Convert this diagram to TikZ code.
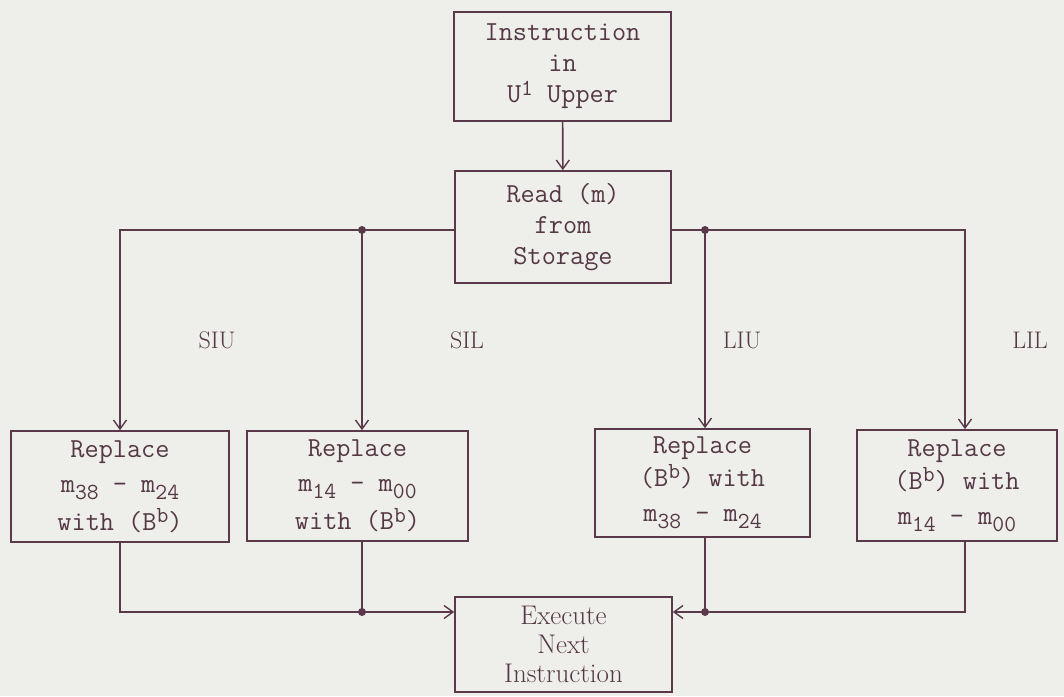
\documentclass[tikz,border=0pt]{standalone}
\usetikzlibrary{arrows.meta}
\definecolor{ink}{HTML}{5A3A4A}
\definecolor{txt}{HTML}{553845}
\definecolor{paper}{HTML}{EEEEEA}
\newcommand{\lo}[1]{\raisebox{-0.26em}{\fontsize{23pt}{23pt}\selectfont #1}}
\newcommand{\hi}[1]{\raisebox{0.28em}{\fontsize{23pt}{23pt}\selectfont #1}}
\tikzset{
  box/.style={draw=ink, line width=1.6pt, text=txt, align=center, inner sep=0pt,
    font=\fontsize{27.5pt}{31pt}\selectfont\ttfamily},
  conn/.style={draw=ink, line width=1.6pt},
  arr/.style={conn, -{Straight Barb[length=9pt,width=13pt,line width=1.4pt]}},
  lab/.style={text=txt, font=\fontsize{24pt}{26pt}\selectfont},
  dot/.style={circle, fill=ink, inner sep=0pt, minimum size=8pt}
}
\begin{document}
\begin{tikzpicture}[x=1pt,y=-1pt]
\fill[paper] (0,0) rectangle (1064,696);
\useasboundingbox (0,0) rectangle (1064,696);

\node[box, minimum width=217pt, minimum height=109pt] (ins) at (562.5,66.5)
  {Instruction\\in\\U\hi{1} Upper};
\node[box, minimum width=216pt, minimum height=112pt] (read) at (563,227)
  {Read (m)\\from\\Storage};

\node[box, minimum width=218pt, minimum height=111pt] (b1) at (120,486.5)
  {Replace\\[4pt]m\lo{38} - m\lo{24}\\[7pt]with (B\hi{b})};
\node[box, minimum width=221pt, minimum height=110pt] (b2) at (357.5,486)
  {Replace\\[4pt]m\lo{14} - m\lo{00}\\[7pt]with (B\hi{b})};
\node[box, minimum width=215pt, minimum height=108pt] (b3) at (702.5,483)
  {Replace\\[2pt](B\hi{b}) with\\[4pt]m\lo{38} - m\lo{24}};
\node[box, minimum width=200pt, minimum height=111pt] (b4) at (957,485.5)
  {Replace\\[2pt](B\hi{b}) with\\[4pt]m\lo{14} - m\lo{00}};

\node[box, minimum width=217pt, minimum height=95pt,
  font=\fontsize{27pt}{29pt}\selectfont\rmfamily] (exe) at (563.5,644.5)
  {Execute\\Next\\Instruction};

\node[lab] (siu) at (217,340) {SIU};
\node[lab] (sil) at (467,340) {SIL};
\node[lab] (liu) at (742,340) {LIU};
\node[lab] (lil) at (1030,340) {LIL};

\coordinate (jll) at (120,230);
\coordinate (jl) at (362,230);
\coordinate (jr) at (705,230);
\coordinate (jrr) at (965,230);
\coordinate (bl) at (362,612);
\coordinate (br) at (705,612);

\draw[arr] (ins) -- (read);

\draw[arr] (read.west |- jl) -- (jll) -- (b1.north);
\draw[arr] (jl) -- (jl |- b2.north);
\draw[arr] (read.east |- jr) -- (jrr) -- (jrr |- b4.north);
\draw[arr] (jr) -- (jr |- b3.north);

\draw[arr] (jll |- b1.south) -- (jll |- bl) -- (exe.west |- bl);
\draw[conn] (bl |- b2.south) -- (bl);
\draw[arr] (jrr |- b4.south) -- (jrr |- br) -- (exe.east |- br);
\draw[conn] (br |- b3.south) -- (br);

\node[dot] (d1) at (jl) {};
\node[dot] (d2) at (jr) {};
\node[dot] (d3) at (bl) {};
\node[dot] (d4) at (br) {};
\end{tikzpicture}
\end{document}
